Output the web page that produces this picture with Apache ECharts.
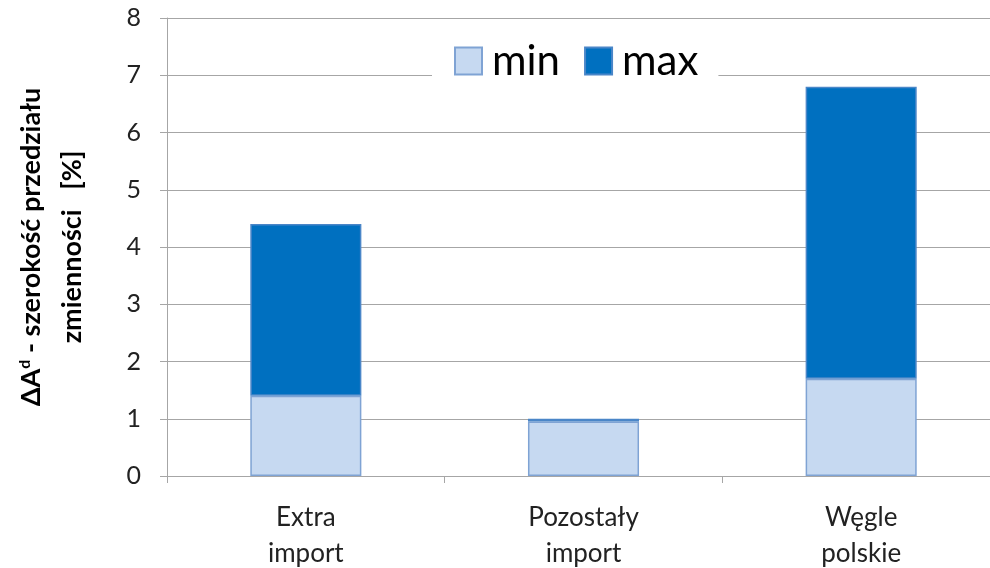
<!DOCTYPE html>
<html><head><meta charset="utf-8">
<script src="https://cdn.jsdelivr.net/npm/echarts@6/dist/echarts.min.js"></script>
<style>html,body{margin:0;padding:0;background:#fff}#c{width:990px;height:568px}</style>
</head><body><div id="c"></div>
<script>
const categories = ['Extra\nimport', 'Pozostały\nimport', 'Węgle\npolskie'];
const minValues = [1.4, 0.95, 1.7];
const maxValues = [3.0, 0.05, 5.1];
const yTicks = [0, 8, 1];
const seriesNames = ['min', 'max'];
const FONT = 'Lato, "Open Sans", sans-serif';
const chart = echarts.init(document.getElementById('c'), null, {renderer: 'canvas'});
chart.setOption({
  animation: false,
  backgroundColor: '#fff',
  textStyle: {fontFamily: FONT},
  grid: {left: 167, right: -10, top: 18, bottom: 92, containLabel: false, outerBoundsMode: 'none'},
  legend: {
    data: seriesNames,
    left: 432, top: 36,
    padding: [4, 20, 4, 22],
    backgroundColor: '#fff',
    itemWidth: 27, itemHeight: 27, itemGap: 24,
    icon: 'rect',
    textStyle: {fontSize: 42, color: '#000', fontFamily: FONT, padding: [0, 0, 0, 5]}
  },
  xAxis: {
    type: 'category',
    data: categories,
    axisLine: {lineStyle: {color: '#a6a6a6', width: 1}},
    axisTick: {show: true, length: 7, lineStyle: {color: '#a6a6a6'}},
    axisLabel: {fontSize: 26, color: '#222', lineHeight: 36, margin: 24, fontFamily: FONT}
  },
  yAxis: {
    type: 'value',
    min: yTicks[0], max: yTicks[1], interval: yTicks[2],
    axisLine: {show: true, lineStyle: {color: '#a6a6a6', width: 1}},
    axisTick: {show: true, length: 7, lineStyle: {color: '#a6a6a6'}},
    splitLine: {lineStyle: {color: '#a6a6a6', width: 1}},
    axisLabel: {fontSize: 25, color: '#222', margin: 26, fontFamily: FONT},
    name: '{b|ΔA}{sup|d}{b| - szerokość przedziału}\n{b|zmienności   [%]}',
    nameLocation: 'middle',
    nameGap: 74,
    nameTextStyle: {
      lineHeight: 41,
      rich: {
        b: {fontSize: 27, fontWeight: 'bold', color: '#000', fontFamily: FONT, lineHeight: 41},
        sup: {fontSize: 16, fontWeight: 'bold', color: '#000', fontFamily: FONT, lineHeight: 16, verticalAlign: 'middle', padding: [0, 0, 14, 0]}
      }
    }
  },
  series: [
    {
      name: seriesNames[0], type: 'bar', stack: 'a', data: minValues,
      barWidth: '40%',
      itemStyle: {color: '#c6d9f1', borderColor: '#7fa3d4', borderWidth: 1.5}
    },
    {
      name: seriesNames[1], type: 'bar', stack: 'a', data: maxValues,
      barWidth: '40%',
      itemStyle: {color: '#0070c0', borderColor: '#4a86c8', borderWidth: 1.5}
    }
  ]
});
</script>
</body></html>
